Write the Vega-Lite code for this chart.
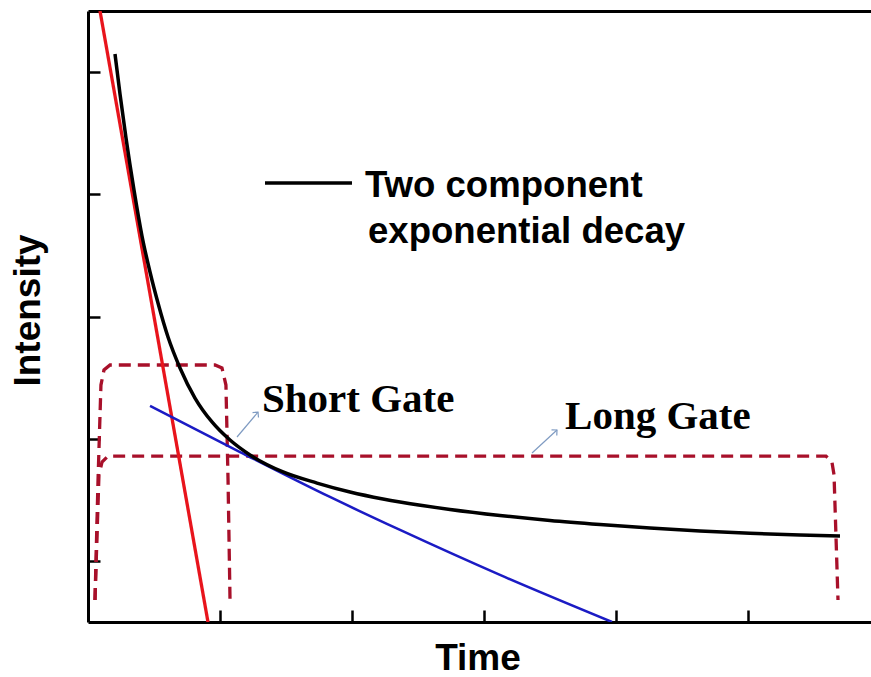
{
  "$schema": "https://vega.github.io/schema/vega-lite/v6.json",
  "width": 783,
  "height": 611,
  "autosize": {"type": "none"},
  "padding": {"left": 88, "top": 11, "right": 0, "bottom": 55},
  "background": "white",
  "config": {
    "view": {"stroke": null},
    "axis": {
      "grid": false,
      "labels": false,
      "domainColor": "black",
      "domainWidth": 3,
      "tickColor": "black",
      "tickWidth": 2.5,
      "tickSize": -12,
      "titleFont": "Liberation Sans",
      "titleFontWeight": "bold",
      "titleFontSize": 37,
      "titleColor": "black"
    }
  },
  "datasets": {
    "decay": [
      {"t": 0.2045, "v": 4.648}, {"t": 0.2424, "v": 4.321}, {"t": 0.2879, "v": 3.961},
      {"t": 0.3485, "v": 3.535}, {"t": 0.4091, "v": 3.159}, {"t": 0.4697, "v": 2.864},
      {"t": 0.5303, "v": 2.61}, {"t": 0.6061, "v": 2.332}, {"t": 0.697, "v": 2.079},
      {"t": 0.8106, "v": 1.833}, {"t": 0.9394, "v": 1.637}, {"t": 1.0758, "v": 1.489},
      {"t": 1.2273, "v": 1.367}, {"t": 1.4773, "v": 1.228}, {"t": 1.7348, "v": 1.137},
      {"t": 1.9848, "v": 1.064}, {"t": 2.2348, "v": 1.007}, {"t": 2.3636, "v": 0.982},
      {"t": 2.7424, "v": 0.921}, {"t": 3.1212, "v": 0.872}, {"t": 3.5, "v": 0.831},
      {"t": 3.8788, "v": 0.798}, {"t": 4.2576, "v": 0.769}, {"t": 4.6364, "v": 0.745},
      {"t": 5.0152, "v": 0.726}, {"t": 5.3939, "v": 0.712}, {"t": 5.697, "v": 0.704}
    ],
    "fast": [
      {"t": 0.091, "v": 5.0}, {"t": 0.909, "v": 0.0}
    ],
    "slow": [
      {"t": 0.47, "v": 1.768}, {"t": 1.152, "v": 1.391}, {"t": 1.833, "v": 1.023},
      {"t": 2.364, "v": 0.753}, {"t": 3.121, "v": 0.385}, {"t": 3.97, "v": 0.0}
    ],
    "gates": [
      {"gate": "short", "i": 1, "t": 0.053, "v": 0.18},
      {"gate": "short", "i": 2, "t": 0.076, "v": 1.162},
      {"gate": "short", "i": 3, "t": 0.098, "v": 1.939},
      {"gate": "short", "i": 4, "t": 0.121, "v": 2.062},
      {"gate": "short", "i": 5, "t": 0.167, "v": 2.103},
      {"gate": "short", "i": 6, "t": 0.962, "v": 2.103},
      {"gate": "short", "i": 7, "t": 1.015, "v": 2.079},
      {"gate": "short", "i": 8, "t": 1.045, "v": 1.939},
      {"gate": "short", "i": 9, "t": 1.061, "v": 1.162},
      {"gate": "short", "i": 10, "t": 1.076, "v": 0.18},
      {"gate": "long", "i": 1, "t": 0.053, "v": 0.18},
      {"gate": "long", "i": 2, "t": 0.083, "v": 1.203},
      {"gate": "long", "i": 3, "t": 0.106, "v": 1.309},
      {"gate": "long", "i": 4, "t": 0.152, "v": 1.358},
      {"gate": "long", "i": 5, "t": 5.591, "v": 1.358},
      {"gate": "long", "i": 6, "t": 5.636, "v": 1.309},
      {"gate": "long", "i": 7, "t": 5.652, "v": 1.203},
      {"gate": "long", "i": 8, "t": 5.682, "v": 0.18}
    ],
    "arrows": [
      {"name": "short", "t": 1.129, "v": 1.514, "t2": 1.288, "v2": 1.718},
      {"name": "long", "t": 3.364, "v": 1.383, "t2": 3.553, "v2": 1.571}
    ],
    "gateLabels": [
      {"label": "Short Gate", "t": 1.318, "v": 1.718},
      {"label": "Long Gate", "t": 3.614, "v": 1.579}
    ],
    "legendText": [
      {"label": "Two component", "t": 2.098, "v": 3.478},
      {"label": "exponential decay", "t": 2.121, "v": 3.101}
    ],
    "legendLine": [
      {"t": 1.341, "t2": 2.0, "v": 3.592}
    ]
  },
  "resolve": {"axis": {"x": "independent", "y": "independent"}},
  "layer": [
    {
      "data": {"name": "gates"},
      "mark": {"type": "line", "color": "#a8102a", "strokeWidth": 3.3, "strokeDash": [12, 7], "clip": true},
      "encoding": {
        "x": {"field": "t", "type": "quantitative", "scale": {"domain": [0, 5.932], "nice": false, "zero": false},
              "axis": {"orient": "bottom", "values": [1, 2, 3, 4, 5], "title": "Time", "titleX": 389.5, "titleY": 55, "titleAlign": "center", "titleBaseline": "bottom"}},
        "y": {"field": "v", "type": "quantitative", "scale": {"domain": [0, 5.0], "nice": false, "zero": false},
              "axis": {"orient": "left", "values": [0.5, 1.5, 2.5, 3.5, 4.5], "title": "Intensity", "titleAngle": -90, "titleX": -49, "titleY": 299, "titleAlign": "center", "titleBaseline": "alphabetic"}},
        "detail": {"field": "gate"},
        "order": {"field": "i", "type": "quantitative"}
      }
    },
    {
      "data": {"name": "fast"},
      "mark": {"type": "line", "color": "#e8141c", "strokeWidth": 3.3, "clip": true},
      "encoding": {
        "x": {"field": "t", "type": "quantitative",
              "axis": {"orient": "top", "ticks": false, "labels": false, "title": null, "domain": true}},
        "y": {"field": "v", "type": "quantitative", "axis": null}
      }
    },
    {
      "data": {"name": "slow"},
      "mark": {"type": "line", "color": "#1b1bc4", "strokeWidth": 2.5, "interpolate": "monotone", "clip": true},
      "encoding": {
        "x": {"field": "t", "type": "quantitative", "axis": null},
        "y": {"field": "v", "type": "quantitative", "axis": null}
      }
    },
    {
      "data": {"name": "decay"},
      "mark": {"type": "line", "color": "black", "strokeWidth": 3.5, "interpolate": "monotone", "clip": true},
      "encoding": {
        "x": {"field": "t", "type": "quantitative", "axis": null},
        "y": {"field": "v", "type": "quantitative", "axis": null}
      }
    },
    {
      "data": {"name": "arrows"},
      "mark": {"type": "rule", "color": "#7f9bc2", "strokeWidth": 1.2},
      "encoding": {
        "x": {"field": "t", "type": "quantitative", "axis": null},
        "y": {"field": "v", "type": "quantitative", "axis": null},
        "x2": {"field": "t2"},
        "y2": {"field": "v2"}
      }
    },
    {
      "data": {"name": "arrows"},
      "transform": [{"filter": "datum.name === 'short'"}],
      "mark": {"type": "point", "shape": "M-1,1L0,0L1,1", "filled": false, "stroke": "#7f9bc2", "strokeWidth": 1.2, "size": 60, "angle": 40, "opacity": 1},
      "encoding": {
        "x": {"field": "t2", "type": "quantitative", "axis": null},
        "y": {"field": "v2", "type": "quantitative", "axis": null}
      }
    },
    {
      "data": {"name": "arrows"},
      "transform": [{"filter": "datum.name === 'long'"}],
      "mark": {"type": "point", "shape": "M-1,1L0,0L1,1", "filled": false, "stroke": "#7f9bc2", "strokeWidth": 1.2, "size": 60, "angle": 47, "opacity": 1},
      "encoding": {
        "x": {"field": "t2", "type": "quantitative", "axis": null},
        "y": {"field": "v2", "type": "quantitative", "axis": null}
      }
    },
    {
      "data": {"name": "gateLabels"},
      "mark": {"type": "text", "font": "Liberation Serif", "fontWeight": "bold", "fontSize": 41, "align": "left", "baseline": "alphabetic", "color": "black"},
      "encoding": {
        "x": {"field": "t", "type": "quantitative", "axis": null},
        "y": {"field": "v", "type": "quantitative", "axis": null},
        "text": {"field": "label"}
      }
    },
    {
      "data": {"name": "legendText"},
      "mark": {"type": "text", "font": "Liberation Sans", "fontWeight": "bold", "fontSize": 36.6, "align": "left", "baseline": "alphabetic", "color": "black"},
      "encoding": {
        "x": {"field": "t", "type": "quantitative", "axis": null},
        "y": {"field": "v", "type": "quantitative", "axis": null},
        "text": {"field": "label"}
      }
    },
    {
      "data": {"name": "legendLine"},
      "mark": {"type": "rule", "color": "black", "strokeWidth": 3.5},
      "encoding": {
        "x": {"field": "t", "type": "quantitative", "axis": null},
        "x2": {"field": "t2"},
        "y": {"field": "v", "type": "quantitative", "axis": null}
      }
    }
  ]
}
